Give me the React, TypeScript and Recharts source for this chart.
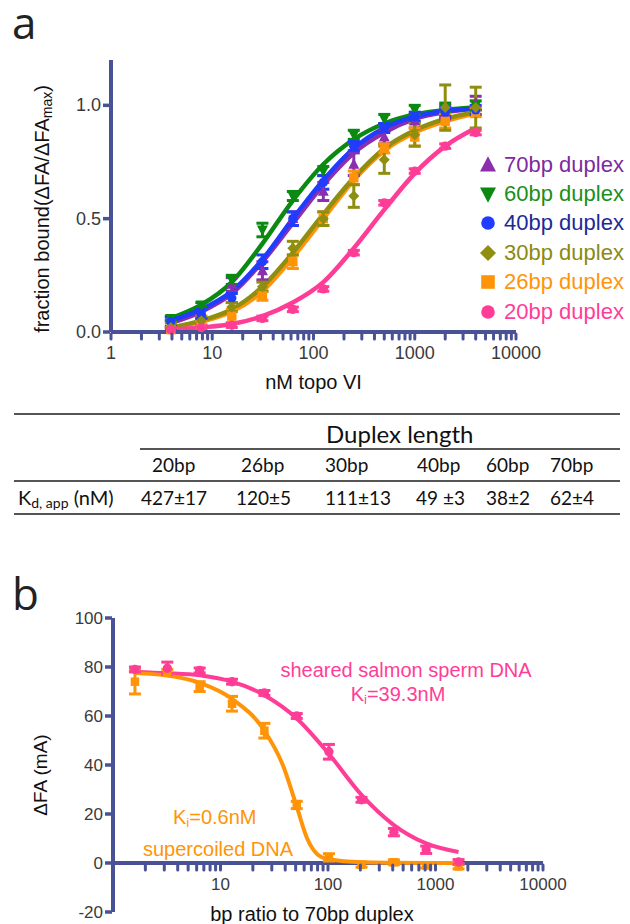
import React from "react";
import {
  ComposedChart,
  Line,
  Scatter,
  XAxis,
  YAxis,
  ErrorBar,
  ReferenceLine,
  Legend,
  Label,
} from "recharts";

const AXIS = "#4a5296";
const TICK_TEXT = "#3a3a3a";
const FONT = "'Liberation Sans', Arial, sans-serif";
const TABLE_FONT = "Lato, 'Open Sans', sans-serif";

// ---- panel a: fraction bound vs nM topo VI ----
const concA = [3.9, 7.8, 15.6, 31.3, 62.5, 125, 250, 500, 1000, 2000, 4000];

const bp70 = [0.03, 0.08, 0.21, 0.27, 0.5, 0.62, 0.74, 0.86, 0.93, 0.97, 1.01];
const bp70Err = [0.02, 0.02, 0.03, 0.04, 0.03, 0.04, 0.05, 0.03, 0.03, 0.03, 0.03];
const fit70 = [0.04, 0.09, 0.17, 0.31, 0.48, 0.65, 0.79, 0.88, 0.94, 0.97, 0.985];

const bp60 = [0.06, 0.12, 0.23, 0.45, 0.6, 0.71, 0.87, 0.94, 0.98, 0.99, 1.0];
const bp60Err = [0.01, 0.01, 0.02, 0.03, 0.02, 0.02, 0.02, 0.02, 0.02, 0.02, 0.02];
const fit60 = [0.06, 0.12, 0.22, 0.39, 0.58, 0.74, 0.85, 0.92, 0.96, 0.98, 0.99];

const bp40 = [0.045, 0.08, 0.15, 0.31, 0.5, 0.66, 0.82, 0.9, 0.95, 0.97, 0.98];
const bp40Err = [0.02, 0.02, 0.02, 0.03, 0.03, 0.03, 0.02, 0.02, 0.02, 0.02, 0.02];
const fit40 = [0.05, 0.1, 0.18, 0.32, 0.5, 0.67, 0.81, 0.9, 0.95, 0.975, 0.985];

const bp30 = [0.02, 0.05, 0.11, 0.2, 0.37, 0.5, 0.6, 0.76, 0.87, 0.99, 0.99];
const bp30Err = [0.02, 0.02, 0.02, 0.02, 0.03, 0.03, 0.05, 0.06, 0.05, 0.1, 0.09];
const fit30 = [0.02, 0.05, 0.1, 0.2, 0.35, 0.52, 0.68, 0.81, 0.89, 0.94, 0.97];

const bp26 = [0.01, 0.03, 0.07, 0.16, 0.31, 0.5, 0.68, 0.81, 0.86, 0.93, 0.97];
const bp26Err = [0.01, 0.02, 0.03, 0.02, 0.03, 0.03, 0.03, 0.02, 0.04, 0.03, 0.02];
const fit26 = [0.02, 0.045, 0.09, 0.18, 0.33, 0.5, 0.67, 0.8, 0.88, 0.93, 0.965];

const bp20 = [0.01, 0.02, 0.03, 0.06, 0.1, 0.19, 0.35, 0.57, 0.71, 0.82, 0.88];
const bp20Err = [0.01, 0.01, 0.01, 0.01, 0.01, 0.01, 0.01, 0.01, 0.01, 0.01, 0.01];
const fit20 = [0.01, 0.02, 0.035, 0.07, 0.13, 0.22, 0.37, 0.54, 0.7, 0.82, 0.9];

// ---- panel b: competition ----
const concB = [1.6, 3.2, 6.4, 12.8, 25.6, 51.2, 102, 205, 410, 819, 1638];
const sheared = [79, 79.5, 78.6, 74, 69.4, 60, 45.4, 25.8, 12.6, 5.4, 0.4];
const shearedErr = [1, 2.5, 1, 1, 1, 1, 3, 1, 1.5, 1.5, 1];
const fitSheared = [78, 77.5, 76.6, 74, 68.5, 59, 44.5, 27.8, 15.5, 8, 4.5];

const supercoiled = [74, 78, 72, 65, 54, 23.7, 2.3, -0.7, 0.3, -1, -1.4];
const supercoiledErr = [5, 1, 2, 3, 3, 1.5, 1.5, 1, 1, 1, 1];
const fitSuperX = [1.6, 3.2, 6.4, 12.8, 25.6, 38, 51.2, 64, 80, 102, 205, 410, 819, 1638];
const fitSuper = [77.5, 76.5, 73.5, 67, 54, 40, 23, 10, 3.5, 1.5, 0.3, 0.1, 0, 0];

// ---- axes ----
const majorTicks = [1, 10, 100, 1000, 10000];
const minorSteps = [1, 2, 3, 4, 5, 6, 7, 8, 9];
const logTicks = majorTicks.flatMap((d) => (d === 10000 ? [d] : minorSteps.map((m) => m * d)));
const labelsA = [1, 10, 100, 1000, 10000];
const labelsB = [10, 100, 1000, 10000];
const yTicksA = [0, 0.5, 1.0];
const yTicksB = [-20, 0, 20, 40, 60, 80, 100];

// ---- table ----
const duplexCols = ["20bp", "26bp", "30bp", "40bp", "60bp", "70bp"];
const kdValues = ["427±17", "120±5", "111±13", "49 ±3", "38±2", "62±4"];
const headerX = [152, 241, 325, 417, 486, 550];
const valueX = [141, 236, 325, 416, 486, 550];

const pts = (xs: number[], ys: number[], errs?: number[]) =>
  xs.map((x, i) => ({ x, y: ys[i], err: errs ? errs[i] : 0 }));

const seriesA = [
  { name: "70bp duplex", color: "#8b2fae", text: "#7d2aa0", shape: "up", y: bp70, err: bp70Err, fit: fit70 },
  { name: "60bp duplex", color: "#0b8a12", text: "#1a8f1a", shape: "down", y: bp60, err: bp60Err, fit: fit60 },
  { name: "40bp duplex", color: "#1f3cff", text: "#1c2a96", shape: "circle", y: bp40, err: bp40Err, fit: fit40 },
  { name: "30bp duplex", color: "#8f8e10", text: "#8a8a12", shape: "diamond", y: bp30, err: bp30Err, fit: fit30 },
  { name: "26bp duplex", color: "#ff9408", text: "#ff9408", shape: "square", y: bp26, err: bp26Err, fit: fit26 },
  { name: "20bp duplex", color: "#ff3d97", text: "#ff3d97", shape: "circle", y: bp20, err: bp20Err, fit: fit20 },
];
// drawing order (bottom to top)
const drawOrder = [0, 1, 4, 2, 3, 5];

const PINK = "#ff3d97";
const ORANGE = "#ff9408";

function Marker({ kind, cx, cy, s, color }: any) {
  if (cx == null || cy == null) return null;
  const h = s / 2;
  switch (kind) {
    case "up":
      return <polygon points={`${cx},${cy - h * 1.1} ${cx + h},${cy + h * 0.8} ${cx - h},${cy + h * 0.8}`} fill={color} />;
    case "down":
      return <polygon points={`${cx},${cy + h * 1.1} ${cx + h},${cy - h * 0.8} ${cx - h},${cy - h * 0.8}`} fill={color} />;
    case "diamond":
      return <polygon points={`${cx},${cy - h} ${cx + h},${cy} ${cx},${cy + h} ${cx - h},${cy}`} fill={color} />;
    case "square":
      return <rect x={cx - h * 0.85} y={cy - h * 0.85} width={h * 1.7} height={h * 1.7} fill={color} />;
    default:
      return <circle cx={cx} cy={cy} r={h * 0.85} fill={color} />;
  }
}

function LogTick({ x, y, payload, shift = 0, fontSize = 18, labels }: any) {
  const v = payload.value;
  const ty = y - shift;
  return (
    <g>
      <line x1={x} x2={x} y1={ty + 2} y2={ty + 7} stroke={AXIS} strokeWidth={3} strokeLinecap="round" />
      {labels.includes(v) && (
        <text x={x} y={ty + 21} textAnchor="middle" dominantBaseline="central" fill={TICK_TEXT} fontSize={fontSize} fontFamily={FONT}>
          {v}
        </text>
      )}
    </g>
  );
}

function YTick({ x, y, payload, fontSize = 18, fmt }: any) {
  return (
    <g>
      <line x1={x - 1} x2={x - 8} y1={y} y2={y} stroke={AXIS} strokeWidth={3.5} />
      <text x={x - 10} y={y} textAnchor="end" dominantBaseline="central" fill={TICK_TEXT} fontSize={fontSize} fontFamily={FONT}>
        {fmt ? fmt(payload.value) : payload.value}
      </text>
    </g>
  );
}

function LegendA() {
  return (
    <div style={{ fontFamily: FONT, fontSize: 22 }}>
      {seriesA.map((s) => (
        <div key={s.name} style={{ display: "flex", alignItems: "center", height: 29.4, whiteSpace: "nowrap" }}>
          <svg width={22} height={22} style={{ marginRight: 4 }}>
            <Marker kind={s.shape} cx={10} cy={11} s={16} color={s.color} />
          </svg>
          <span style={{ color: s.text }}>{s.name}</span>
        </div>
      ))}
    </div>
  );
}

function PanelA() {
  return (
    <ComposedChart width={630} height={400} margin={{ top: 60, right: 114, bottom: 0, left: 51 }}>
      <XAxis
        dataKey="x"
        type="number"
        scale="log"
        domain={[1, 10000]}
        ticks={logTicks}
        interval={0}
        height={68}
        tickSize={0}
        tickMargin={0}
        axisLine={{ stroke: AXIS, strokeWidth: 4 }}
        tickLine={false}
        tick={<LogTick fontSize={18} labels={labelsA} />}
      >
        <Label
          content={({ viewBox }: any) => (
            <text x={viewBox.x + viewBox.width / 2} y={viewBox.y + 50} textAnchor="middle" dominantBaseline="central" fontSize={20} fontFamily={FONT} fill="#111">
              nM topo VI
            </text>
          )}
        />
      </XAxis>
      <YAxis
        dataKey="y"
        type="number"
        domain={[0, 1.2]}
        ticks={yTicksA}
        width={60}
        tickSize={0}
        tickMargin={0}
        axisLine={{ stroke: AXIS, strokeWidth: 4 }}
        tickLine={false}
        tick={<YTick fontSize={18} fmt={(v: number) => v.toFixed(1)} />}
      >
        <Label
          content={({ viewBox }: any) => {
            const cx = viewBox.x - 9;
            const cy = viewBox.y + viewBox.height / 2 + 13;
            return (
              <text transform={`translate(${cx},${cy}) rotate(-90)`} textAnchor="middle" dominantBaseline="central" fontSize={20} fontFamily={FONT} fill="#111">
                fraction bound(ΔFA/ΔFA
                <tspan fontSize={14} dy={5}>max</tspan>
                <tspan dy={-5}>)</tspan>
              </text>
            );
          }}
        />
      </YAxis>
      {drawOrder.map((i) => {
        const s = seriesA[i];
        return (
          <Line
            key={"fit" + s.name}
            data={pts(concA, s.fit)}
            dataKey="y"
            type="monotone"
            stroke={s.color}
            strokeWidth={4.5}
            dot={false}
            activeDot={false}
            isAnimationActive={false}
            legendType="none"
          />
        );
      })}
      {drawOrder.map((i) => {
        const s = seriesA[i];
        return (
          <Scatter
            key={"pts" + s.name}
            name={s.name}
            data={pts(concA, s.y, s.err)}
            dataKey="y"
            fill={s.color}
            isAnimationActive={false}
            shape={(p: any) => <Marker kind={s.shape} cx={p.cx} cy={p.cy} s={11} color={s.color} />}
          >
            <ErrorBar dataKey="err" direction="y" width={6} strokeWidth={3} stroke={s.color} />
          </Scatter>
        );
      })}
      <Legend
        layout="vertical"
        align="center"
        verticalAlign="middle"
        wrapperStyle={{ top: 150, left: 478, width: 152 }}
        content={() => <LegendA />}
      />
    </ComposedChart>
  );
}

const B_TOP = 78;
const B_PLOT_H = 294;
const B_SHIFT = (B_PLOT_H * (0 - yTicksB[0])) / (yTicksB[yTicksB.length - 1] - yTicksB[0]);

function PanelB() {
  return (
    <ComposedChart width={630} height={384} margin={{ top: B_TOP, right: 87, bottom: 0, left: 53 }}>
      <XAxis
        dataKey="x"
        type="number"
        scale="log"
        domain={[1, 10000]}
        ticks={logTicks}
        interval={0}
        height={12}
        tickSize={0}
        tickMargin={0}
        axisLine={false}
        tickLine={false}
        tick={<LogTick shift={B_SHIFT} fontSize={17} labels={labelsB} />}
      >
        <Label
          content={({ viewBox }: any) => (
            <text x={viewBox.x + viewBox.width / 2 - 16} y={viewBox.y + 2} textAnchor="middle" dominantBaseline="central" fontSize={20} fontFamily={FONT} fill="#111">
              bp ratio to 70bp duplex
            </text>
          )}
        />
      </XAxis>
      <YAxis
        dataKey="y"
        type="number"
        domain={[-20, 100]}
        ticks={yTicksB}
        width={60}
        tickSize={0}
        tickMargin={0}
        axisLine={{ stroke: AXIS, strokeWidth: 4 }}
        tickLine={false}
        tick={<YTick fontSize={17} />}
      >
        <Label
          content={({ viewBox }: any) => {
            const cx = viewBox.x - 13;
            const cy = viewBox.y + viewBox.height / 2 + 10;
            return (
              <text transform={`translate(${cx},${cy}) rotate(-90)`} textAnchor="middle" dominantBaseline="central" fontSize={19} fontFamily={FONT} fill="#111">
                ΔFA (mA)
              </text>
            );
          }}
        />
      </YAxis>
      <ReferenceLine y={0} stroke={AXIS} strokeWidth={4} />
      <Line data={pts(concB, fitSheared)} dataKey="y" type="monotone" stroke={PINK} strokeWidth={4} dot={false} activeDot={false} isAnimationActive={false} />
      <Line data={pts(fitSuperX, fitSuper)} dataKey="y" type="monotone" stroke={ORANGE} strokeWidth={4} dot={false} activeDot={false} isAnimationActive={false} />
      <Scatter
        data={pts(concB, supercoiled, supercoiledErr)}
        dataKey="y"
        fill={ORANGE}
        isAnimationActive={false}
        shape={(p: any) => <Marker kind="square" cx={p.cx} cy={p.cy} s={10} color={ORANGE} />}
      >
        <ErrorBar dataKey="err" direction="y" width={6} strokeWidth={3} stroke={ORANGE} />
      </Scatter>
      <Scatter
        data={pts(concB, sheared, shearedErr)}
        dataKey="y"
        fill={PINK}
        isAnimationActive={false}
        shape={(p: any) => <Marker kind="circle" cx={p.cx} cy={p.cy} s={11} color={PINK} />}
      >
        <ErrorBar dataKey="err" direction="y" width={6} strokeWidth={3} stroke={PINK} />
      </Scatter>
    </ComposedChart>
  );
}

function Overlay() {
  const rule = "#555";
  return (
    <svg width={630} height={924} style={{ position: "absolute", left: 0, top: 0, pointerEvents: "none" }}>
      <text x={12} y={39} fontSize={44} fontFamily="'Open Sans', sans-serif" fill="#222">a</text>
      <text x={12} y={610} fontSize={44} fontFamily="'Open Sans', sans-serif" fill="#222">b</text>

      {/* table of Kd values */}
      <line x1={14} x2={620} y1={414} y2={414} stroke={rule} strokeWidth={2} />
      <line x1={140} x2={620} y1={449} y2={449} stroke={rule} strokeWidth={2} />
      <line x1={14} x2={620} y1={481} y2={481} stroke={rule} strokeWidth={2} />
      <line x1={14} x2={620} y1={514} y2={514} stroke={rule} strokeWidth={2} />
      <text x={326} y={433} dominantBaseline="central" fontSize={24} fontFamily={TABLE_FONT} fill="#111">Duplex length</text>
      {duplexCols.map((c, i) => (
        <text key={c} x={headerX[i]} y={464} dominantBaseline="central" fontSize={19} fontFamily={TABLE_FONT} fill="#111">{c}</text>
      ))}
      <text x={18} y={497} dominantBaseline="central" fontSize={20} fontFamily={TABLE_FONT} fill="#111">
        K<tspan fontSize={14} dy={5}>d, app</tspan>
        <tspan dy={-5}> (nM)</tspan>
      </text>
      {kdValues.map((v, i) => (
        <text key={v} x={valueX[i]} y={497} dominantBaseline="central" fontSize={19} fontFamily={TABLE_FONT} fill="#111">{v}</text>
      ))}

      {/* panel b annotations */}
      <text x={406} y={670} textAnchor="middle" dominantBaseline="central" fontSize={20} fontFamily={FONT} fill={PINK}>sheared salmon sperm DNA</text>
      <text x={398} y={694} textAnchor="middle" dominantBaseline="central" fontSize={20} fontFamily={FONT} fill={PINK}>
        K<tspan fontSize={13} dy={5}>i</tspan>
        <tspan dy={-5}>=39.3nM</tspan>
      </text>
      <text x={173} y={817} dominantBaseline="central" fontSize={20} fontFamily={FONT} fill={ORANGE}>
        K<tspan fontSize={13} dy={5}>i</tspan>
        <tspan dy={-5}>=0.6nM</tspan>
      </text>
      <text x={143} y={849} dominantBaseline="central" fontSize={20} fontFamily={FONT} fill={ORANGE}>supercoiled DNA</text>
    </svg>
  );
}

export default function App() {
  return (
    <div style={{ position: "absolute", left: 0, top: 0, width: 630, height: 924, background: "#fff", overflow: "hidden" }}>
      <div style={{ position: "absolute", left: 0, top: 0 }}>
        <PanelA />
      </div>
      <div style={{ position: "absolute", left: 0, top: 540 }}>
        <PanelB />
      </div>
      <Overlay />
    </div>
  );
}
